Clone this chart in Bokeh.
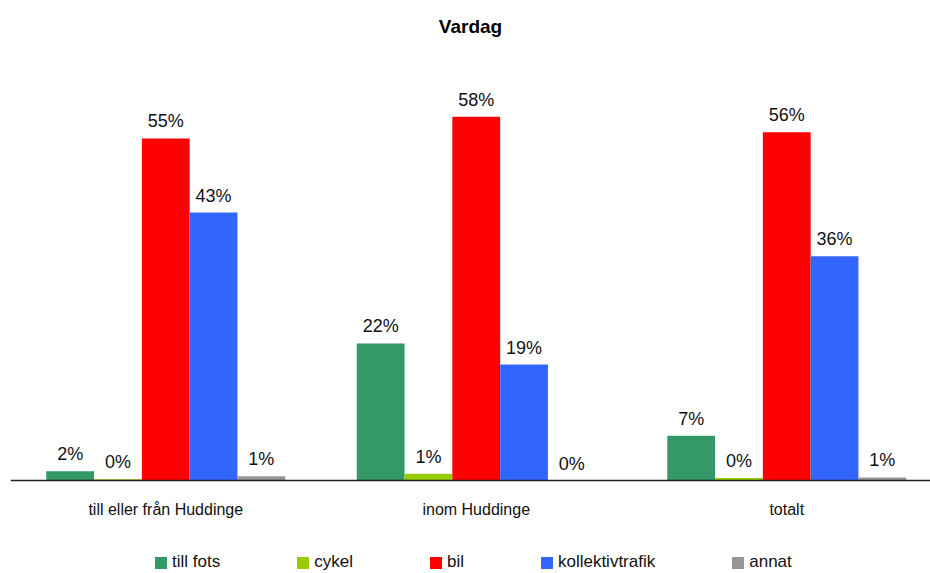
from bokeh.plotting import figure
from bokeh.models import (Range1d, Legend, LegendItem, ColumnDataSource, Span)
from bokeh.core.properties import value
from bokeh.embed import file_html
from bokeh.resources import INLINE

categories = ["till eller från Huddinge", "inom Huddinge", "totalt"]
series_names = ["till fots", "cykel", "bil", "kollektivtrafik", "annat"]
till_fots = [1.5, 22.0, 7.2]
cykel = [0.2, 1.1, 0.4]
bil = [54.9, 58.4, 55.9]
kollektivtrafik = [43.0, 18.6, 36.0]
annat = [0.7, 0.0, 0.5]
colors = ["#339966", "#99CC00", "#FF0000", "#3366FF", "#969696"]

series_values = [till_fots, cykel, bil, kollektivtrafik, annat]

FONT = "Liberation Sans"
W, H = 930, 573
left, top = 10, 45
axis_y = 480
frame_w = W - left
cat_px = 310.5
px_per_pct = 6.23

p = figure(width=W, height=H, output_backend="svg", toolbar_location=None,
           x_range=Range1d(0, frame_w / cat_px),
           y_range=Range1d(-(H - axis_y) / px_per_pct, (axis_y - top) / px_per_pct),
           min_border_left=left, min_border_right=0, min_border_top=top,
           min_border_bottom=0, title="Vardag")
p.outline_line_color = None
p.xgrid.visible = False
p.ygrid.visible = False
p.xaxis.visible = False
p.yaxis.visible = False

bw = 47.8 / cat_px
items = []
lx, ly, lt = [], [], []
for k, (name, vals, col) in enumerate(zip(series_names, series_values, colors)):
    xs = [i + 0.5 + (k - 2) * bw for i in range(len(categories))]
    src = ColumnDataSource(dict(x=xs, top=vals))
    r = p.vbar(x="x", top="top", width=bw, bottom=0, source=src,
               fill_color=col, line_color=None)
    items.append(LegendItem(label=name, renderers=[r]))
    for x, v in zip(xs, vals):
        lx.append(x)
        ly.append(v)
        lt.append(f"{int(v + 0.5)}%")

p.text(x=lx, y=ly, text=lt, text_align="center", text_baseline="alphabetic",
       y_offset=-17, text_font=value(FONT), text_font_size="18px", text_color="#111111")

# category axis line and labels
p.add_layout(Span(location=0, dimension="width", line_color="#222222", line_width=1.5))
p.text(x=[i + 0.5 for i in range(len(categories))], y=[0] * len(categories), text=categories,
       text_align="center", text_baseline="top", y_offset=20,
       text_font=value(FONT), text_font_size="16px", text_color="#111111")

p.title.align = "center"
p.title.text_font = FONT
p.title.text_font_size = "19px"
p.title.text_font_style = "bold"
p.title.text_color = "#000000"
p.title.standoff = 17

legend = Legend(items=items, orientation="horizontal", location=(143, 1),
                glyph_width=15, glyph_height=15, label_standoff=4, spacing=75,
                padding=0, margin=0, border_line_color=None, background_fill_alpha=0,
                label_text_font=FONT, label_text_font_size="17px", label_height=17,
                label_width=10, label_text_color="#111111")
p.add_layout(legend, "center")

open("out.html", "w").write(file_html(p, INLINE))
